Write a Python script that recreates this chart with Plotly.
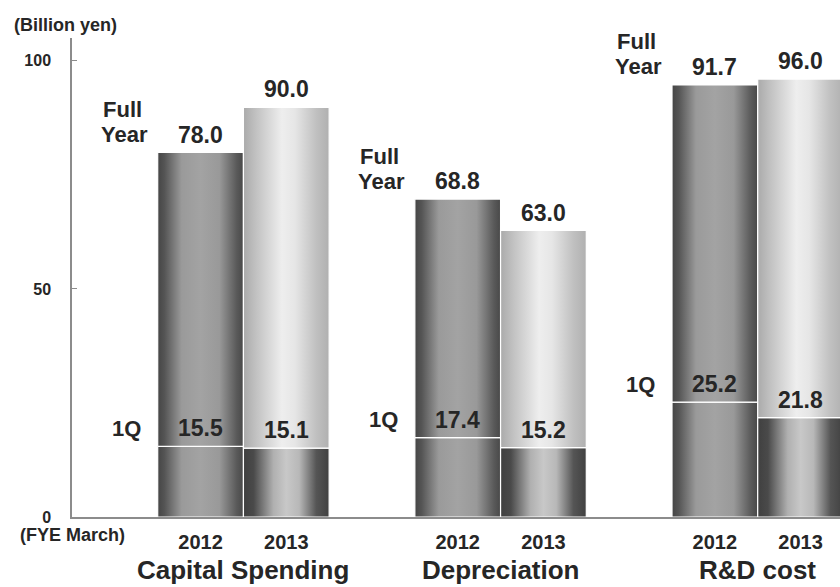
import plotly.graph_objects as go

# ---- data ----
categories = ["Capital Spending", "Depreciation", "R&D cost"]
years = ["2012", "2013"]
# full-year bar heights as drawn in the picture
full_year_2012 = [79.9, 69.7, 94.7]
full_year_2013 = [89.8, 62.8, 96.0]
# full-year value labels
full_year_label_2012 = ["78.0", "68.8", "91.7"]
full_year_label_2013 = ["90.0", "63.0", "96.0"]
# first-quarter values
q1_2012 = [15.5, 17.4, 25.2]
q1_2013 = [15.1, 15.2, 21.8]
y_ticks = [0, 50, 100]

# ---- styles ----
TXT = "#262626"
FONT = "Liberation Sans, Arial, sans-serif"
grad_2012 = [[0, "#454545"], [0.08, "#555555"], [0.28, "#9a9a9a"], [0.5, "#a3a3a3"],
             [0.72, "#999999"], [0.92, "#5a5a5a"], [1, "#484848"]]
grad_2013_top = [[0, "#aaaaaa"], [0.15, "#c2c2c2"], [0.45, "#eeeeee"], [0.6, "#e6e6e6"],
                 [0.85, "#c0c0c0"], [1, "#b0b0b0"]]
grad_2013_bot = [[0, "#404040"], [0.12, "#4a4a4a"], [0.35, "#b0b0b0"], [0.5, "#c8c8c8"],
                 [0.65, "#b8b8b8"], [0.85, "#555555"], [1, "#404040"]]

fig = go.Figure()


def add_seg(x0, x1, y0, y1, scale):
    fig.add_trace(go.Scatter(
        x=[x0, x1, x1, x0, x0], y=[y0, y0, y1, y1, y0],
        mode="lines", fill="toself",
        fillgradient=dict(type="horizontal", colorscale=scale),
        line=dict(color="white", width=1.2),
        hoverinfo="skip", showlegend=False))


annotations = []
tickvals, ticktext = [], []
for g, cat in enumerate(categories):
    c = 3 * g
    # 2012 bar: [c-1, c], 2013 bar: [c, c+1]
    add_seg(c - 1, c, 0, q1_2012[g], grad_2012)
    add_seg(c - 1, c, q1_2012[g], full_year_2012[g], grad_2012)
    add_seg(c, c + 1, 0, q1_2013[g], grad_2013_bot)
    add_seg(c, c + 1, q1_2013[g], full_year_2013[g], grad_2013_top)
    tickvals += [c - 0.5, c + 0.5]
    ticktext += years

    big = dict(family=FONT, size=23, color=TXT, weight="bold")
    for xv, yv, txt in [(c - 0.5, full_year_2012[g], full_year_label_2012[g]),
                        (c + 0.5, full_year_2013[g], full_year_label_2013[g]),
                        (c - 0.5, q1_2012[g], f"{q1_2012[g]:.1f}"),
                        (c + 0.5, q1_2013[g], f"{q1_2013[g]:.1f}")]:
        annotations.append(dict(x=xv, y=yv, xref="x", yref="y", text=txt, showarrow=False,
                                xanchor="center", yanchor="middle", yshift=18, font=big))
    side = dict(family=FONT, size=22, color=TXT, weight="bold")
    annotations.append(dict(x=c - 1, y=q1_2012[g], xref="x", yref="y", text="1Q",
                            showarrow=False, xanchor="right", yanchor="middle",
                            xshift=-15, yshift=18, font=side))
    annotations.append(dict(x=c - 1, y=full_year_2012[g], xref="x", yref="y", text="Year",
                            showarrow=False, xanchor="right", yanchor="middle",
                            xshift=-8, yshift=18, font=side))
    annotations.append(dict(x=c - 1, y=full_year_2012[g], xref="x", yref="y", text="Full",
                            showarrow=False, xanchor="right", yanchor="middle",
                            xshift=-14, yshift=43, font=side))
    annotations.append(dict(x=c, y=-0.1106, xref="x", yref="paper", text=cat,
                            showarrow=False, xanchor="center", yanchor="middle",
                            font=dict(family=FONT, size=26, color=TXT, weight="bold")))

annotations.append(dict(x=-0.078, y=1.028, xref="paper", yref="paper", text="(Billion yen)",
                        showarrow=False, xanchor="left", yanchor="middle",
                        font=dict(family=FONT, size=18, color=TXT, weight="bold")))
annotations.append(dict(x=0, y=-0.037, xref="paper", yref="paper", text="(FYE March)",
                        showarrow=False, xanchor="center", yanchor="middle",
                        font=dict(family=FONT, size=18, color=TXT, weight="bold")))

fig.update_layout(
    width=840, height=587,
    margin=dict(l=72, r=0, t=38, b=70),
    paper_bgcolor="white", plot_bgcolor="white",
    annotations=annotations,
    xaxis=dict(range=[-2.0, 6.96], showgrid=False, zeroline=False, showline=True,
               linecolor="#8c8c8c", linewidth=1.5, tickvals=tickvals, ticktext=ticktext,
               ticks="", ticklabelstandoff=6,
               tickfont=dict(family=FONT, size=20, color=TXT, weight="bold")),
    yaxis=dict(range=[0, 105], showgrid=False, zeroline=False, showline=True,
               linecolor="#8c8c8c", linewidth=1.5, tickvals=y_ticks,
               ticks="inside", ticklen=5, tickcolor="#8c8c8c", ticklabelstandoff=16,
               tickfont=dict(family=FONT, size=16, color=TXT, weight="bold")),
)

fig.write_html("out.html")
